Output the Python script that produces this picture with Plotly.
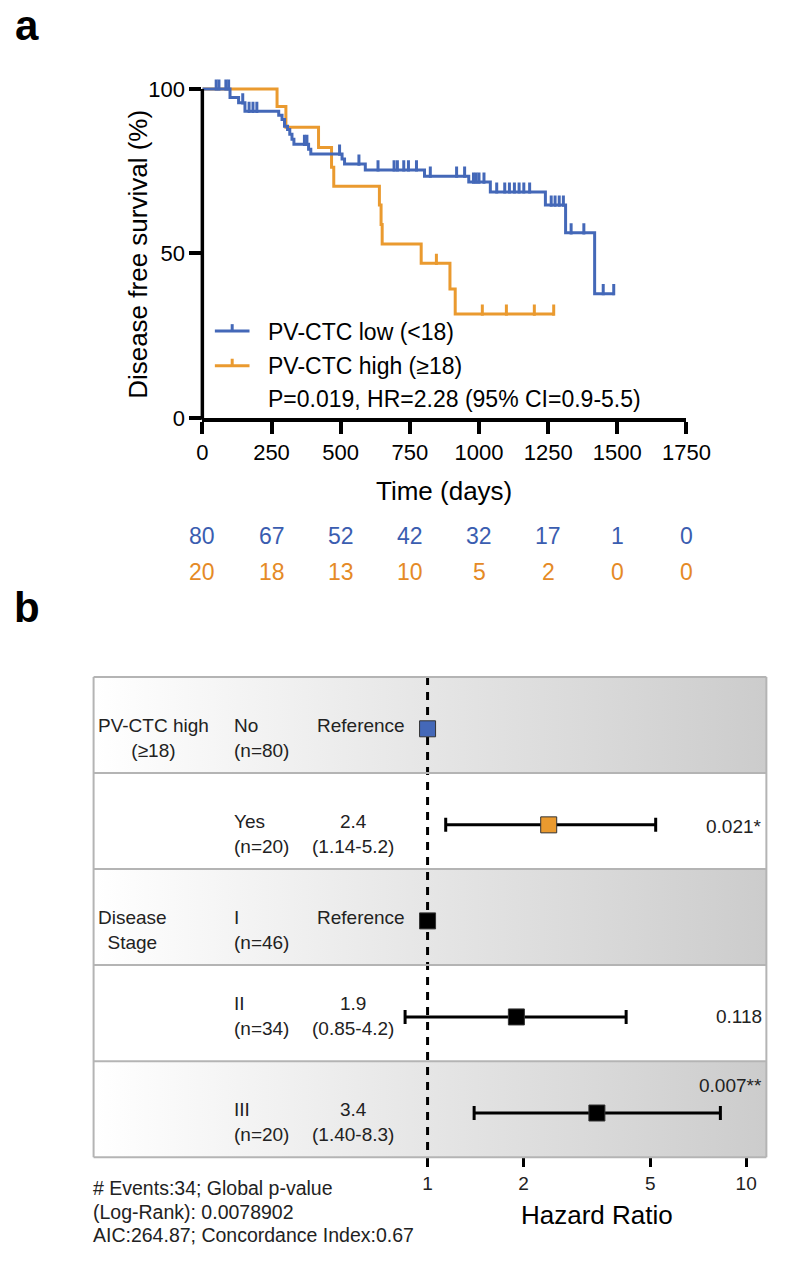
import plotly.graph_objects as go

W, H = 800, 1270
FONT = "Liberation Sans, Arial, Helvetica, sans-serif"
BLUE = "#4468B8"
ORANGE = "#EA9A2F"
BLUE_TXT = "#3A5DB0"
ORANGE_TXT = "#E58A26"

# ---------------- Kaplan-Meier data ----------------
blue_t = [0, 100, 131, 154, 276, 288, 297, 308, 316, 324, 331, 384, 392, 505, 514,
          589, 803, 963, 1041, 1240, 1313, 1418, 1490]
blue_s = [100, 97.4, 95.8, 93.2, 92.0, 90.7, 88.7, 87.7, 86.2, 84.7, 83.2, 81.7, 80.2,
          78.7, 77.2, 75.4, 73.5, 71.7, 68.7, 64.7, 56.3, 37.8, 37.8]
blue_cens_t = [50, 60, 85, 95, 146, 169, 183, 197, 369, 378, 496, 566, 635, 693, 705,
               728, 745, 774, 824, 919, 948, 980, 990, 1000, 1018, 1064, 1093, 1110,
               1128, 1145, 1162, 1183, 1261, 1275, 1290, 1305, 1333, 1379, 1449, 1487]

orange_t = [0, 270, 302, 420, 467, 475, 640, 646, 650, 791, 895, 914, 1270]
orange_s = [100, 94.7, 88.4, 82.2, 76.2, 70.4, 64.7, 58.8, 52.9, 47.0, 39.2, 31.6, 31.6]
orange_cens_t = [846, 1012, 1099, 1200, 1270]

risk_times = [0, 250, 500, 750, 1000, 1250, 1500, 1750]
risk_low = [80, 67, 52, 42, 32, 17, 1, 0]
risk_high = [20, 18, 13, 10, 5, 2, 0, 0]

km_xticks = [0, 250, 500, 750, 1000, 1250, 1500, 1750]
km_yticks = [0, 50, 100]

# ---------------- Forest plot data ----------------
f_group = ["PV-CTC high<br>(≥18)", "", "Disease<br>Stage", "", ""]
f_level = ["No<br>(n=80)", "Yes<br>(n=20)", "I<br>(n=46)", "II<br>(n=34)", "III<br>(n=20)"]
f_est = ["Reference", "2.4<br>(1.14-5.2)", "Reference", "1.9<br>(0.85-4.2)", "3.4<br>(1.40-8.3)"]
f_hr = [1, 2.4, 1, 1.9, 3.4]
f_lo = [None, 1.14, None, 0.85, 1.40]
f_hi = [None, 5.2, None, 4.2, 8.3]
f_p = ["", "0.021*", "", "0.118", "0.007**"]
f_ticks = [1, 2, 5, 10]


def px(x):
    return x / W


def py(y):
    return 1 - y / H


def surv_at(ts, ss, t):
    v = ss[0]
    for ti, si in zip(ts, ss):
        if ti <= t:
            v = si
    return v


# KM geometry (pixels)
KM_L, KM_R = 204, 707
KM_Y0, KM_Y100 = 421, 88
PPU = (KM_Y0 - KM_Y100) / 100.0
Y_TOP = 103
km_top_px = KM_Y0 - Y_TOP * PPU
TICK_LEN = 8
tick_off = (TICK_LEN / 2) / PPU

fig = go.Figure()

fig.add_trace(go.Scatter(x=orange_t, y=orange_s, mode="lines",
                         line=dict(shape="hv", color=ORANGE, width=3),
                         xaxis="x", yaxis="y", hoverinfo="skip", showlegend=False))
fig.add_trace(go.Scatter(x=orange_cens_t,
                         y=[surv_at(orange_t, orange_s, t) + tick_off for t in orange_cens_t],
                         mode="markers",
                         marker=dict(symbol="line-ns", size=TICK_LEN,
                                     line=dict(color=ORANGE, width=3)),
                         xaxis="x", yaxis="y", hoverinfo="skip", showlegend=False))
fig.add_trace(go.Scatter(x=blue_t, y=blue_s, mode="lines",
                         line=dict(shape="hv", color=BLUE, width=3),
                         xaxis="x", yaxis="y", hoverinfo="skip", showlegend=False))
fig.add_trace(go.Scatter(x=blue_cens_t,
                         y=[surv_at(blue_t, blue_s, t) + tick_off for t in blue_cens_t],
                         mode="markers",
                         marker=dict(symbol="line-ns", size=TICK_LEN,
                                     line=dict(color=BLUE, width=3)),
                         xaxis="x", yaxis="y", hoverinfo="skip", showlegend=False))

# ---------------- Forest plot ----------------
F_L, F_R, F_T, F_B = 91, 790, 683, 1169
HR1_PX = 438
PX_DEC = 331
x2_range = [(F_L - HR1_PX) / PX_DEC, (F_R - HR1_PX) / PX_DEC]
xl, xr = 10 ** x2_range[0], 10 ** x2_range[1]
n_rows = len(f_hr)
row_off = 0.46
y2_range = [n_rows + row_off, row_off]
rows = list(range(1, n_rows + 1))

for i in rows:
    if i % 2 == 1:
        y_a, y_b = i - 1 + row_off, i + row_off
        fig.add_trace(go.Scatter(x=[xl, xr, xr, xl, xl], y=[y_a, y_a, y_b, y_b, y_a],
                                 mode="lines", line=dict(width=0, color="rgba(0,0,0,0)"),
                                 fill="toself",
                                 fillgradient=dict(type="horizontal",
                                                   colorscale=[[0, "#ffffff"], [1, "#cccccc"]]),
                                 xaxis="x2", yaxis="y2", hoverinfo="skip", showlegend=False))

fig.add_trace(go.Scatter(x=[1, 1], y=[y2_range[1], y2_range[0]], mode="lines",
                         line=dict(color="black", width=3, dash="8px,7px"),
                         xaxis="x2", yaxis="y2", hoverinfo="skip", showlegend=False))

ci_idx = [k for k in range(n_rows) if f_lo[k] is not None]
sq_colors = [BLUE, ORANGE, "black", "black", "black"]
fig.add_trace(go.Scatter(
    x=[f_hr[k] for k in ci_idx], y=[rows[k] for k in ci_idx], mode="markers",
    marker=dict(symbol="square", size=16, color=[sq_colors[k] for k in ci_idx],
                line=dict(color="#333333", width=1)),
    error_x=dict(type="data", symmetric=False,
                 array=[f_hi[k] - f_hr[k] for k in ci_idx],
                 arrayminus=[f_hr[k] - f_lo[k] for k in ci_idx],
                 thickness=3, width=7, color="black"),
    xaxis="x2", yaxis="y2", hoverinfo="skip", showlegend=False))
ref_idx = [k for k in range(n_rows) if f_lo[k] is None]
fig.add_trace(go.Scatter(
    x=[f_hr[k] for k in ref_idx], y=[rows[k] for k in ref_idx], mode="markers",
    marker=dict(symbol="square", size=16, color=[sq_colors[k] for k in ref_idx],
                line=dict(color="#333333", width=1)),
    xaxis="x2", yaxis="y2", hoverinfo="skip", showlegend=False))

shapes = []
shapes.append(dict(type="line", xref="paper", yref="paper",
                   x0=px(KM_L), x1=px(KM_L), y0=py(KM_Y0 + 1.75), y1=py(KM_Y100),
                   line=dict(color="black", width=3.5)))
for yy, col in [(333, BLUE), (368, ORANGE)]:
    shapes.append(dict(type="line", xref="paper", yref="paper",
                       x0=px(217), x1=px(253), y0=py(yy), y1=py(yy),
                       line=dict(color=col, width=3)))
    shapes.append(dict(type="line", xref="paper", yref="paper",
                       x0=px(235), x1=px(235), y0=py(yy), y1=py(yy - 7),
                       line=dict(color=col, width=3)))
row_h = (F_B - F_T) / n_rows
for k in range(n_rows + 1):
    yy = F_T + k * row_h
    shapes.append(dict(type="line", xref="paper", yref="paper",
                       x0=px(F_L), x1=px(F_R), y0=py(yy), y1=py(yy),
                       line=dict(color="#b4b4b4", width=2)))
for xx in (F_L, F_R):
    shapes.append(dict(type="line", xref="paper", yref="paper",
                       x0=px(xx), x1=px(xx), y0=py(F_T), y1=py(F_B),
                       line=dict(color="#b4b4b4", width=2)))

ann = []


def A(text, x, y, size, xanchor="center", yanchor="middle", color="black", align="center",
      xref="paper", yref="paper", textangle=0, yshift=0):
    ann.append(dict(text=text, x=x, y=y, xref=xref, yref=yref, xanchor=xanchor,
                    yanchor=yanchor, showarrow=False, align=align, textangle=textangle,
                    yshift=yshift, font=dict(family=FONT, size=size, color=color)))


A("<b>a</b>", px(22), py(24), 42)
A("<b>b</b>", px(22), py(613), 42)
A("Disease free survival (%)", px(137), py(255), 26, textangle=-90)
A("Time (days)", px(455), py(495), 26)
A("PV-CTC low (&lt;18)", px(270), py(334), 23, xanchor="left")
A("PV-CTC high (≥18)", px(270), py(368), 23, xanchor="left")
A("P=0.019, HR=2.28 (95% CI=0.9-5.5)", px(270), py(402), 23, xanchor="left")
for t, nl, nh in zip(risk_times, risk_low, risk_high):
    A(str(nl), t, py(540), 23, xref="x", color=BLUE_TXT)
    A(str(nh), t, py(577), 23, xref="x", color=ORANGE_TXT)

text_shift = [-9, -9, -9, 1, -9]
p_shift = [0, -2, 0, 0, 28]
for k in range(n_rows):
    r = rows[k]
    if f_group[k]:
        A(f_group[k], px(94), r, 19, xanchor="left", yref="y2", yshift=text_shift[k], color="#222")
    A(f_level[k], px(235), r, 19, xanchor="left", align="left", yref="y2",
      yshift=text_shift[k], color="#222")
    if f_lo[k] is None:
        A(f_est[k], px(369), r, 19, yref="y2", yshift=3, color="#222")
    else:
        A(f_est[k], px(360), r, 19, yref="y2", yshift=text_shift[k], color="#222")
    if f_p[k]:
        A(f_p[k], px(788), r, 19, xanchor="right", yref="y2", yshift=p_shift[k], color="#222")

A("Hazard Ratio", px(614), py(1228), 26)
A("# Events:34; Global p-value", px(88), py(1200), 19.5, xanchor="left", color="#222")
A("(Log-Rank): 0.0078902", px(88), py(1224), 19.5, xanchor="left", color="#222")
A("AIC:264.87; Concordance Index:0.67", px(88), py(1248), 19.5, xanchor="left", color="#222")

fig.update_layout(
    width=W, height=H, margin=dict(l=0, r=0, t=0, b=0),
    paper_bgcolor="white", plot_bgcolor="rgba(0,0,0,0)",
    font=dict(family=FONT, color="black"),
    showlegend=False,
    xaxis=dict(domain=[px(KM_L), px(KM_R)], range=[0, 1750], tickvals=km_xticks,
               ticks="outside", ticklen=12, tickwidth=3.5, tickcolor="black",
               showline=True, linecolor="black", linewidth=3.5, showgrid=False,
               zeroline=False, tickfont=dict(size=22, family=FONT), anchor="y"),
    yaxis=dict(domain=[py(KM_Y0), py(km_top_px)], range=[0, Y_TOP], tickvals=km_yticks,
               ticks="outside", ticklen=12, tickwidth=3.5, tickcolor="black",
               showline=False, showgrid=False, zeroline=False,
               tickfont=dict(size=22, family=FONT), anchor="x"),
    xaxis2=dict(domain=[px(F_L), px(F_R)], type="log", range=x2_range, tickvals=f_ticks,
                ticktext=[str(v) for v in f_ticks], ticks="outside", ticklen=9,
                tickwidth=3, tickcolor="black", showline=False, showgrid=False,
                zeroline=False, tickfont=dict(size=19, family=FONT, color="#222"),
                anchor="y2"),
    yaxis2=dict(domain=[py(F_B), py(F_T)], range=y2_range, visible=False, anchor="x2"),
    shapes=shapes, annotations=ann,
)

fig.write_html(
    "out.html",
    config={"displayModeBar": False},
    post_script=("document.body.style.margin='0';"
                 "document.body.style.overflow='hidden';"
                 "document.documentElement.style.overflow='hidden';"),
)
